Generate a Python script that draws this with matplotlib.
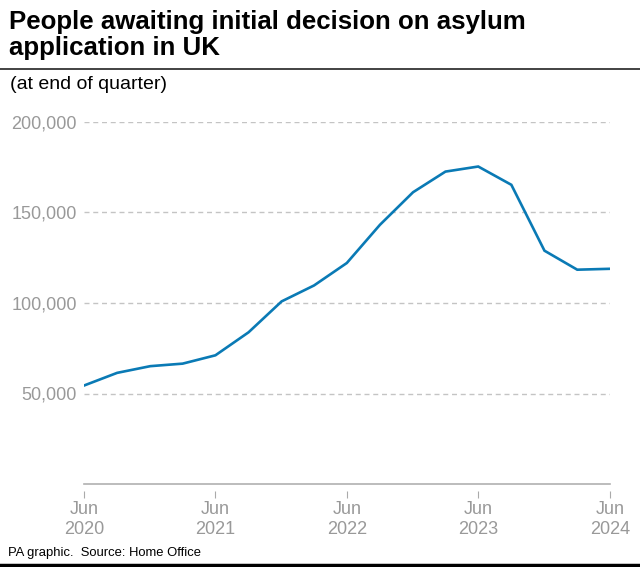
import matplotlib
matplotlib.use('Agg')
import matplotlib.pyplot as plt
import pandas as pd

# 四半期末の待機者数
quarters = pd.date_range('2020-06-30', periods=17, freq='QE')
awaiting = [54400, 61400, 65100, 66500, 71100, 83800, 100900, 109700, 122100,
            143200, 161200, 172600, 175400, 165300, 128900, 118400, 118900]

tick_dates = pd.to_datetime(['2020-06-30', '2021-06-30', '2022-06-30',
                             '2023-06-30', '2024-06-30'])
tick_labels = ['Jun\n2020', 'Jun\n2021', 'Jun\n2022', 'Jun\n2023', 'Jun\n2024']
y_ticks = [50000, 100000, 150000, 200000]

plt.rcParams['font.family'] = ['Liberation Sans', 'DejaVu Sans']

fig = plt.figure(figsize=(6.4, 5.67), dpi=100)
ax = fig.add_axes([84/640, 1-484/567, 526/640, 362/567])

ax.plot(quarters, awaiting, color='#0a7ab5', lw=1.9, solid_joinstyle='miter', zorder=3)

ax.set_xlim(quarters[0], quarters[-1])
ax.set_ylim(0, 200000)
ax.set_yticks(y_ticks)
ax.set_yticklabels([f'{v:,}' for v in y_ticks])
ax.set_xticks(tick_dates)
ax.set_xticklabels(tick_labels, linespacing=1.2)

for side in ['top', 'right', 'left', 'bottom']:
    ax.spines[side].set_visible(False)
ax.axhline(0, color='#b0b0b0', lw=1.2, zorder=2, clip_on=False)
for v in y_ticks:
    ax.axhline(v, color='#c4c4c4', lw=1, ls=(0, (3.6, 2.7)), zorder=1)

ax.tick_params(axis='y', length=0, pad=5, labelsize=13, labelcolor='#999999')
ax.tick_params(axis='x', length=5, width=0.8, color='#aaaaaa', pad=2.5,
               labelsize=13, labelcolor='#999999', direction='out')
ax.spines['bottom'].set_position(('outward', 5))

# タイトルなど
fig.text(9/640, 1-10/567, 'People awaiting initial decision on asylum\napplication in UK',
         fontsize=18.6, fontweight='bold', va='top', ha='left', linespacing=1.12)
fig.add_artist(plt.Line2D([0, 1], [1-69/567, 1-69/567], color='#222222', lw=1.2))
fig.text(10/640, 1-85/567, '(at end of quarter)', fontsize=14, va='center', ha='left')
fig.text(8/640, 1-553/567, 'PA graphic.  Source: Home Office', fontsize=9.4, va='center', ha='left')
fig.add_artist(plt.Line2D([0, 1], [1-565/567, 1-565/567], color='black', lw=2.5))

plt.savefig('out.png', dpi=100)
